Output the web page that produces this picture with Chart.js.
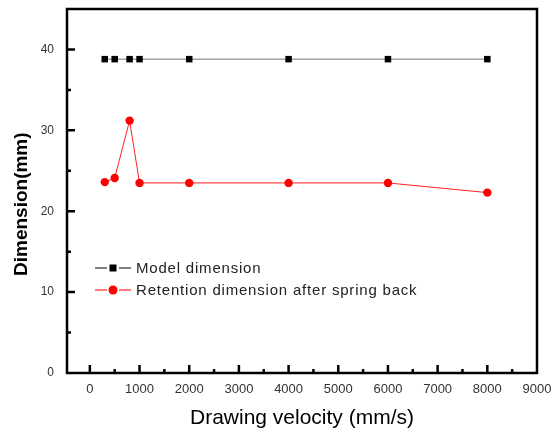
<!DOCTYPE html>
<html>
<head>
<meta charset="utf-8">
<script src="https://cdn.jsdelivr.net/npm/chart.js@4.4.0/dist/chart.umd.min.js"></script>
<style>
  html, body { margin: 0; padding: 0; background: #fff; }
  #wrap { width: 552px; height: 434px; position: relative; }
</style>
</head>
<body>
<div id="wrap"><canvas id="c" width="552" height="434"></canvas></div>
<script>
const velocities = [300, 500, 800, 1000, 2000, 4000, 6000, 8000];
const modelDimension = [38.8, 38.8, 38.8, 38.8, 38.8, 38.8, 38.8, 38.8];
const retentionDimension = [23.6, 24.1, 31.2, 23.5, 23.5, 23.5, 23.5, 22.3];
const xTickValues = [0, 1000, 2000, 3000, 4000, 5000, 6000, 7000, 8000, 9000];
const yTickValues = [0, 10, 20, 30, 40];
const seriesNames = ['Model dimension', 'Retention dimension after spring back'];

const toPoints = (xs, ys) => xs.map((x, i) => ({ x: x, y: ys[i] }));

const framePlugin = {
  id: 'frame',
  afterDraw(chart) {
    const ctx = chart.ctx;
    const a = chart.chartArea;
    const xs = chart.scales.x, ys = chart.scales.y;
    ctx.save();
    ctx.strokeStyle = '#000';
    ctx.lineWidth = 2.5;
    ctx.strokeRect(a.left, a.top, a.right - a.left, a.bottom - a.top);
    ctx.beginPath();
    for (let v = 0; v <= 8500; v += 500) {
      const px = xs.getPixelForValue(v);
      const len = (v % 1000 === 0) ? 8 : 4;
      ctx.moveTo(px, a.bottom);
      ctx.lineTo(px, a.bottom - len);
    }
    for (let v = 5; v <= 40; v += 5) {
      const py = ys.getPixelForValue(v);
      const len = (v % 10 === 0) ? 8 : 4;
      ctx.moveTo(a.left, py);
      ctx.lineTo(a.left + len, py);
    }
    ctx.stroke();

    const ds = chart.data.datasets;
    const rows = [268, 290];
    ctx.font = '15px Arial, "Liberation Sans", sans-serif';
    ctx.textBaseline = 'middle';
    ctx.textAlign = 'left';
    ds.forEach((d, i) => {
      const y = rows[i];
      ctx.strokeStyle = d.legendLine;
      ctx.lineWidth = 1;
      ctx.beginPath();
      ctx.moveTo(95, y); ctx.lineTo(107, y);
      ctx.moveTo(119, y); ctx.lineTo(131, y);
      ctx.stroke();
      ctx.fillStyle = d.pointBackgroundColor;
      if (d.pointStyle === 'rect') {
        ctx.fillRect(109.5, y - 3.5, 7, 7);
      } else {
        ctx.beginPath();
        ctx.arc(113, y, 4.5, 0, Math.PI * 2);
        ctx.fill();
      }
      ctx.fillStyle = '#222';
      if ('letterSpacing' in ctx) ctx.letterSpacing = '0.8px';
      ctx.fillText(d.label, 136, y + 1);
      if ('letterSpacing' in ctx) ctx.letterSpacing = '0px';
    });
    ctx.restore();
  }
};

new Chart(document.getElementById('c'), {
  type: 'line',
  data: {
    datasets: [
      {
        label: seriesNames[0],
        data: toPoints(velocities, modelDimension),
        borderColor: '#777',
        borderWidth: 1,
        pointStyle: 'rect',
        pointRadius: 4.6,
        pointBackgroundColor: '#000',
        pointBorderColor: '#000',
        pointBorderWidth: 0,
        legendLine: '#000'
      },
      {
        label: seriesNames[1],
        data: toPoints(velocities, retentionDimension),
        borderColor: '#ff2020',
        borderWidth: 1,
        pointStyle: 'circle',
        pointRadius: 4.2,
        pointBackgroundColor: '#ff0000',
        pointBorderColor: '#ff0000',
        pointBorderWidth: 0,
        legendLine: '#ff0000'
      }
    ]
  },
  options: {
    responsive: false,
    animation: false,
    layout: { padding: { top: 9, right: 15, left: 0, bottom: 0 } },
    plugins: { legend: { display: false }, tooltip: { enabled: false } },
    scales: {
      x: {
        type: 'linear',
        min: -460,
        max: 9000,
        afterBuildTicks: (s) => { s.ticks = xTickValues.map(v => ({ value: v })); },
        afterFit: (s) => { s.height = 61; },
        grid: { display: false, drawTicks: true, tickLength: 9 },
        border: { display: false },
        ticks: {
          padding: 0,
          color: '#333',
          font: { family: 'Arial, "Liberation Sans", sans-serif', size: 13 },
          maxRotation: 0,
          autoSkip: false,
          callback: (v) => String(v)
        },
        title: {
          display: true,
          text: 'Drawing velocity (mm/s)',
          color: '#000',
          font: { family: 'Arial, "Liberation Sans", sans-serif', size: 21 },
          padding: { top: 0, bottom: 3 }
        }
      },
      y: {
        type: 'linear',
        min: 0,
        max: 45,
        afterBuildTicks: (s) => { s.ticks = yTickValues.map(v => ({ value: v })); },
        afterFit: (s) => { s.width = 67; },
        grid: { display: false, drawTicks: true, tickLength: 13 },
        border: { display: false },
        ticks: {
          padding: 0,
          color: '#333',
          font: { family: 'Arial, "Liberation Sans", sans-serif', size: 12 },
          callback: (v) => String(v)
        },
        title: {
          display: true,
          text: 'Dimension(mm)     ',
          color: '#000',
          font: { family: 'Arial, "Liberation Sans", sans-serif', size: 19, weight: 'bold' },
          padding: { top: 10, bottom: 0 }
        }
      }
    }
  },
  plugins: [framePlugin]
});
</script>
</body>
</html>
